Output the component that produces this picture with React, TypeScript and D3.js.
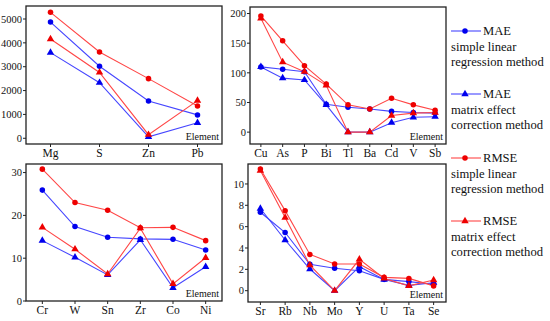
import React from 'react';
import * as d3 from 'd3';

// panel 1
const elems1 = ['Mg', 'S', 'Zn', 'Pb'];
const maeSimple1 = [4870, 3020, 1560, 980];
const maeMatrix1 = [3590, 2330, 60, 650];
const rmseSimple1 = [5280, 3620, 2500, 1350];
const rmseMatrix1 = [4160, 2760, 150, 1580];
const ticks1 = [0, 1000, 2000, 3000, 4000, 5000];

// panel 2
const elems2 = ['Cu', 'As', 'P', 'Bi', 'Tl', 'Ba', 'Cd', 'V', 'Sb'];
const maeSimple2 = [110, 106, 102, 47, 42, 39, 35, 33, 32];
const maeMatrix2 = [110, 91, 88, 46, 0, 0, 16, 25, 26];
const rmseSimple2 = [196, 154, 112, 81, 46, 39, 57, 46, 37];
const rmseMatrix2 = [192, 118, 102, 79, 0, 0, 28, 32, 33];
const ticks2 = [0, 50, 100, 150, 200];

// panel 3
const elems3 = ['Cr', 'W', 'Sn', 'Zr', 'Co', 'Ni'];
const maeSimple3 = [25.9, 17.4, 14.9, 14.5, 14.4, 11.9];
const maeMatrix3 = [14.1, 10.2, 6.1, 14.3, 3.1, 8.0];
const rmseSimple3 = [30.8, 23.0, 21.2, 17.1, 17.2, 14.1];
const rmseMatrix3 = [17.2, 12.1, 6.3, 17.0, 4.0, 10.1];
const ticks3 = [0, 10, 20, 30];

// panel 4
const elems4 = ['Sr', 'Rb', 'Nb', 'Mo', 'Y', 'U', 'Ta', 'Se'];
const maeSimple4 = [7.35, 5.45, 2.47, 2.1, 1.87, 1.06, 0.85, 0.6];
const maeMatrix4 = [7.7, 4.75, 2.03, 0, 2.25, 1.05, 0.5, 0.75];
const rmseSimple4 = [11.4, 7.5, 3.4, 2.5, 2.5, 1.25, 1.15, 0.45];
const rmseMatrix4 = [11.25, 6.85, 2.4, 0, 2.94, 1.15, 0.45, 1.0];
const ticks4 = [0, 2, 4, 6, 8, 10];

const legendNames = [
  ['MAE', 'simple linear', 'regression method'],
  ['MAE', 'matrix effect', 'correction method'],
  ['RMSE', 'simple linear', 'regression method'],
  ['RMSE', 'matrix effect', 'correction method'],
];

const BLUE_LINE = '#4646ff';
const BLUE = '#0000ee';
const RED_LINE = '#ff4646';
const RED = '#ee0000';
const serif = { fontFamily: 'Liberation Serif' };

const seriesStyle = [
  { line: BLUE_LINE, fill: BLUE, shape: 'circle' },
  { line: BLUE_LINE, fill: BLUE, shape: 'triangle' },
  { line: RED_LINE, fill: RED, shape: 'circle' },
  { line: RED_LINE, fill: RED, shape: 'triangle' },
];

const circleSym = d3.symbol(d3.symbolCircle, 24)();
const triSym = d3.symbol(d3.symbolTriangle, 24)();

type PanelProps = {
  elems: string[];
  series: number[][];
  ticks: number[];
  domain: [number, number];
  box: [number, number, number, number];
};

const Panel = ({ elems, series, ticks, domain, box }: PanelProps) => {
  const [x0, x1, y0, y1] = box;
  const x = d3.scalePoint().domain(elems).range([x0, x1]).padding(0.5);
  const y = d3.scaleLinear().domain(domain).range([y1, y0]);
  const line = d3.line<number>()
    .x((_, i) => x(elems[i])!)
    .y(d => y(d));

  return (
    <g>
      {series.map((s, k) => (
        <path key={'l' + k} d={line(s)!} fill="none" stroke={seriesStyle[k].line} strokeWidth={1.1} />
      ))}
      {series.map((s, k) =>
        s.map((v, i) => (
          <path
            key={'m' + k + i}
            d={seriesStyle[k].shape === 'circle' ? circleSym : triSym}
            transform={`translate(${x(elems[i])},${y(v)})`}
            fill={seriesStyle[k].fill}
          />
        ))
      )}
      <rect x={x0} y={y0} width={x1 - x0} height={y1 - y0} fill="none" stroke="#222" strokeWidth={1.3} />
      {ticks.map(t => (
        <g key={t}>
          <line x1={x0 - 3} x2={x0} y1={y(t)} y2={y(t)} stroke="#222" strokeWidth={1} />
          <text x={x0 - 4} y={y(t)} dy="0.35em" textAnchor="end" fontSize={10.5} fill="#111" style={serif}>{t}</text>
        </g>
      ))}
      {elems.map(e => (
        <g key={e}>
          <line x1={x(e)} x2={x(e)} y1={y1} y2={y1 + 3} stroke="#222" strokeWidth={1} />
          <text x={x(e)} y={y1 + 13} textAnchor="middle" fontSize={11.5} fill="#111" style={serif}>{e}</text>
        </g>
      ))}
      <text x={x1 - 3} y={y1 - 4} textAnchor="end" fontSize={10} fill="#111" style={serif}>Element</text>
    </g>
  );
};

const App = () => {
  const legendY = [31, 94, 158, 221];
  return (
    <svg width={550} height={321} style={{ position: 'absolute', left: 0, top: 0, background: '#fff' }}>
      <Panel elems={elems1} series={[maeSimple1, maeMatrix1, rmseSimple1, rmseMatrix1]} ticks={ticks1}
        domain={[-240, 5545]} box={[26, 222, 6, 144]} />
      <Panel elems={elems2} series={[maeSimple2, maeMatrix2, rmseSimple2, rmseMatrix2]} ticks={ticks2}
        domain={[-20, 211]} box={[250, 446, 7, 144]} />
      <Panel elems={elems3} series={[maeSimple3, maeMatrix3, rmseSimple3, rmseMatrix3]} ticks={ticks3}
        domain={[0, 32]} box={[26, 222, 164, 301]} />
      <Panel elems={elems4} series={[maeSimple4, maeMatrix4, rmseSimple4, rmseMatrix4]} ticks={ticks4}
        domain={[-1.06, 11.87]} box={[248, 446, 164, 302]} />
      {legendNames.map((names, k) => {
        const ly = legendY[k];
        const st = seriesStyle[k];
        return (
          <g key={k} fill="#111">
            <line x1={451} x2={481} y1={ly} y2={ly} stroke={st.line} strokeWidth={1.1} />
            <path d={st.shape === 'circle' ? circleSym : triSym} transform={`translate(${465},${ly})`} fill={st.fill} />
            <text x={483} y={ly} dy="0.35em" fontSize={12.6} style={serif}>{names[0]}</text>
            <text x={451} y={ly + 16} dy="0.35em" fontSize={12.6} style={serif}>{names[1]}</text>
            <text x={451} y={ly + 31} dy="0.35em" fontSize={12.6} style={serif}>{names[2]}</text>
          </g>
        );
      })}
    </svg>
  );
};

export default App;
